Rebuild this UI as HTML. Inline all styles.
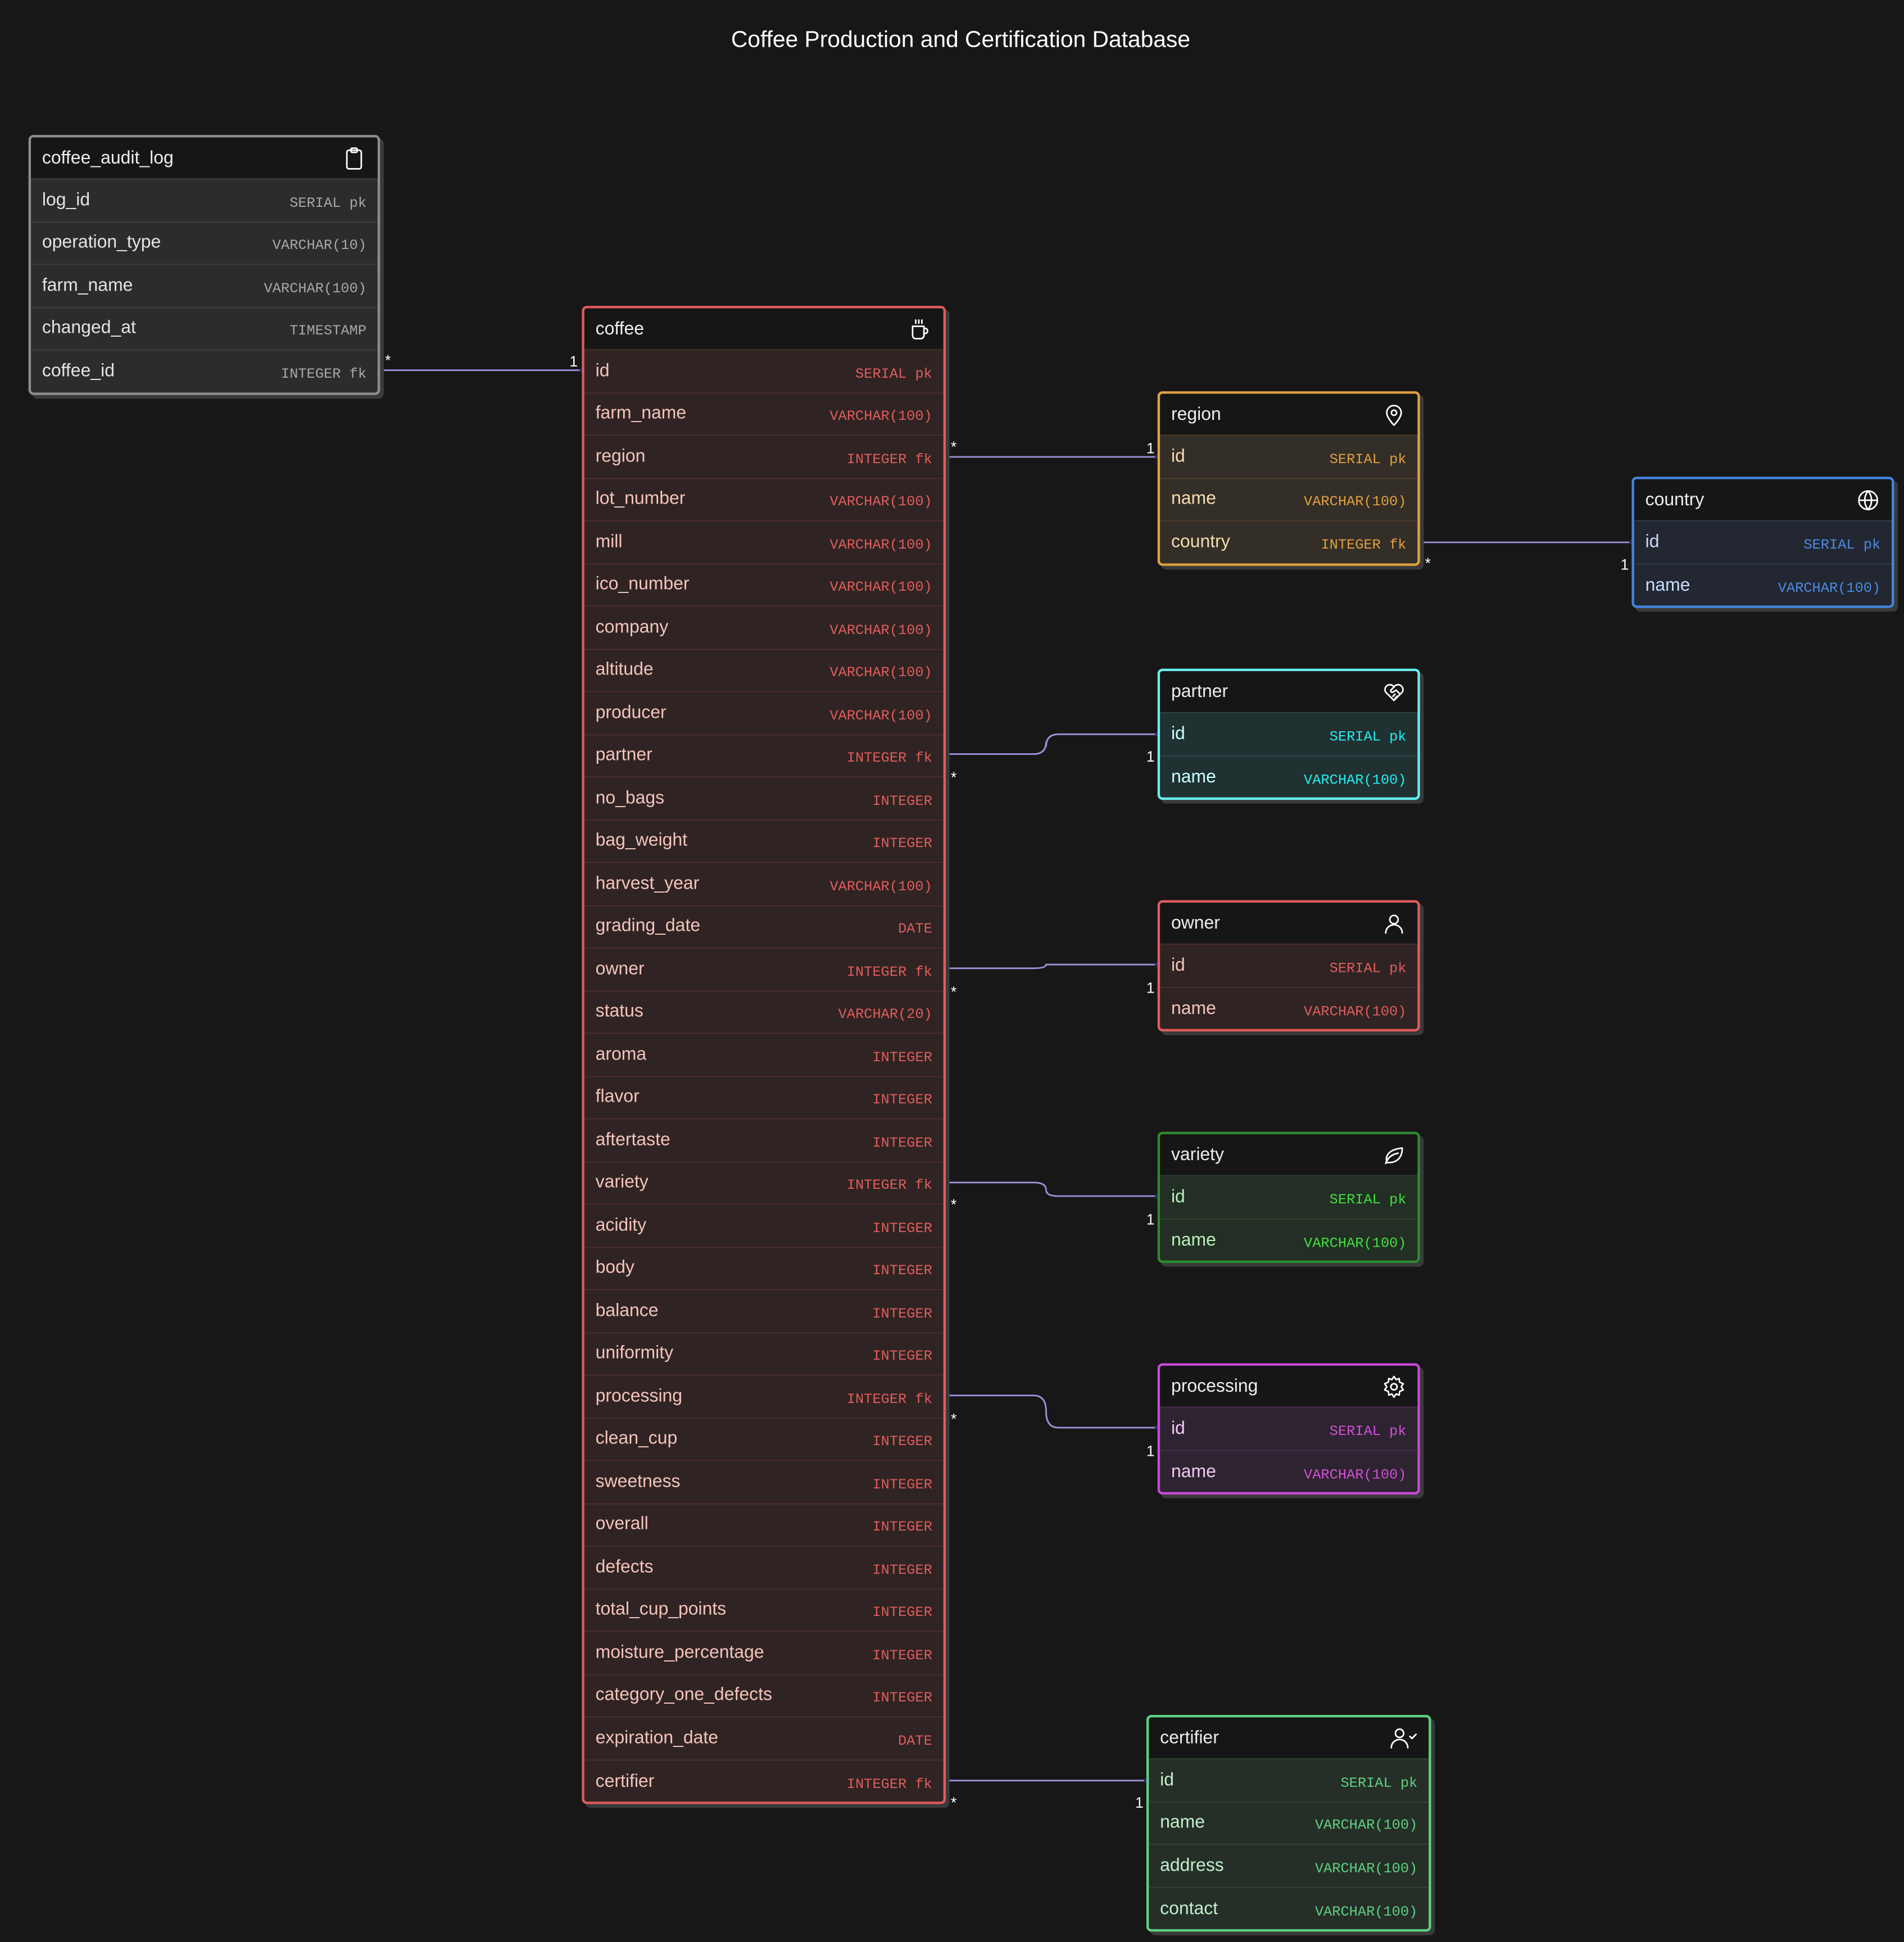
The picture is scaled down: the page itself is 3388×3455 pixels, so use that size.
<!DOCTYPE html>
<html><head><meta charset="utf-8"><style>
html,body{margin:0;padding:0;background:#171717;}
body{width:3388px;height:3455px;overflow:hidden;position:relative;}
#w{position:absolute;left:0;top:0;width:1538px;height:1568px;transform:scale(2.2029);transform-origin:0 0;font-family:"Liberation Sans",sans-serif;}
.t{position:absolute;border:2px solid;border-radius:4px;box-shadow:3px 3px 0 #3a3a3a;overflow:hidden;box-sizing:border-box;}
.h{height:33px;background:#161616;color:#eee;font-size:14.5px;display:flex;align-items:center;justify-content:space-between;padding:0 9px 0 9px;border-bottom:1px solid;}
.r{height:34.5px;border-bottom:1px solid;display:flex;align-items:center;justify-content:space-between;padding:0 9px;font-size:14.5px;box-sizing:border-box;}
.r:last-child{border-bottom:none}
.r i{font-style:normal;font-family:"Liberation Mono",monospace;font-size:11.5px;padding-top:5px;white-space:pre;}
svg.ic{width:20px;height:20px;fill:none;stroke:#fff;stroke-width:1.5;stroke-linecap:round;stroke-linejoin:round}
.title{position:absolute;left:0;width:1552px;top:21px;text-align:center;color:#fff;font-size:18.5px;}
.lb{position:absolute;color:#fff;font-size:12px;}
</style></head><body><div id="w">
<div class="title">Coffee Production and Certification Database</div>
<svg style="position:absolute;left:0;top:0" width="1538" height="1568" fill="none" stroke="#9a94d8" stroke-width="1.3">
<path d="M306 299 H470"/>
<path d="M763 369 H935"/>
<path d="M1146 438 H1318"/>
<path d="M763 609 H835 Q845 609 845 599 V603 Q845 593 855 593 H935"/>
<path d="M763 782 H835 Q845 782 845 779 H935"/>
<path d="M763 955 H835 Q845 955 845 961 Q845 966 855 966 H935"/>
<path d="M763 1127 H835 Q845 1127 845 1140 Q845 1153 855 1153 H935"/>
<path d="M763 1438 H926"/>
<g fill="#2a2660" stroke="none">
<circle cx="306" cy="299" r="2"/><circle cx="470" cy="299" r="2"/>
<circle cx="763" cy="369" r="2"/><circle cx="935" cy="369" r="2"/>
<circle cx="1146" cy="438" r="2"/><circle cx="1318" cy="438" r="2"/>
<circle cx="763" cy="609" r="2"/><circle cx="935" cy="593" r="2"/>
<circle cx="763" cy="782" r="2"/><circle cx="935" cy="779" r="2"/>
<circle cx="763" cy="955" r="2"/><circle cx="935" cy="966" r="2"/>
<circle cx="763" cy="1127" r="2"/><circle cx="935" cy="1153" r="2"/>
<circle cx="763" cy="1438" r="2"/><circle cx="926" cy="1438" r="2"/>
</g></svg>
<div class="lb" style="left:311px;top:284px">*</div><div class="lb" style="left:460px;top:285px">1</div>
<div class="lb" style="left:768px;top:354px">*</div><div class="lb" style="left:926px;top:355px">1</div>
<div class="lb" style="left:1151px;top:448px">*</div><div class="lb" style="left:1309px;top:449px">1</div>
<div class="lb" style="left:768px;top:621px">*</div><div class="lb" style="left:926px;top:604px">1</div>
<div class="lb" style="left:768px;top:794px">*</div><div class="lb" style="left:926px;top:791px">1</div>
<div class="lb" style="left:768px;top:966px">*</div><div class="lb" style="left:926px;top:978px">1</div>
<div class="lb" style="left:768px;top:1139px">*</div><div class="lb" style="left:926px;top:1165px">1</div>
<div class="lb" style="left:768px;top:1449px">*</div><div class="lb" style="left:917px;top:1449px">1</div>

<div class="t" style="left:23px;top:109px;width:284px;height:210px;border-color:#8d8d8d;background:#2c2c2c;color:#e4e4e4">
<div class="h" style="border-color:#3c3c3c">coffee_audit_log<svg class="ic" viewBox="0 0 24 24"><rect x="5" y="4" width="14" height="18" rx="2"/><rect x="9" y="2" width="6" height="4" rx="1"/></svg></div>
<div style="color:#e4e4e4">
<div class="r" style="border-color:#3c3c3c">log_id<i style="color:#a8a8a8">SERIAL pk</i></div>
<div class="r" style="border-color:#3c3c3c">operation_type<i style="color:#a8a8a8">VARCHAR(10)</i></div>
<div class="r" style="border-color:#3c3c3c">farm_name<i style="color:#a8a8a8">VARCHAR(100)</i></div>
<div class="r" style="border-color:#3c3c3c">changed_at<i style="color:#a8a8a8">TIMESTAMP</i></div>
<div class="r" style="border-color:#3c3c3c">coffee_id<i style="color:#a8a8a8">INTEGER fk</i></div>
</div></div>

<div class="t" style="left:470px;top:247px;width:294px;height:1210px;border-color:#e05c5c;background:#2f2423;color:#f5c4bc">
<div class="h" style="border-color:#4a2c2c">coffee<svg class="ic" viewBox="0 0 24 24"><path d="M5 9h11v9a3 3 0 0 1-3 3H8a3 3 0 0 1-3-3z"/><path d="M16 11h1a2.5 2.5 0 0 1 0 5h-1"/><path d="M8 3v3M11 3v3M14 3v3"/></svg></div>
<div>
<div class="r" style="border-color:#4a2c2c">id<i style="color:#e05c5c">SERIAL pk</i></div>
<div class="r" style="border-color:#4a2c2c">farm_name<i style="color:#e05c5c">VARCHAR(100)</i></div>
<div class="r" style="border-color:#4a2c2c">region<i style="color:#e05c5c">INTEGER fk</i></div>
<div class="r" style="border-color:#4a2c2c">lot_number<i style="color:#e05c5c">VARCHAR(100)</i></div>
<div class="r" style="border-color:#4a2c2c">mill<i style="color:#e05c5c">VARCHAR(100)</i></div>
<div class="r" style="border-color:#4a2c2c">ico_number<i style="color:#e05c5c">VARCHAR(100)</i></div>
<div class="r" style="border-color:#4a2c2c">company<i style="color:#e05c5c">VARCHAR(100)</i></div>
<div class="r" style="border-color:#4a2c2c">altitude<i style="color:#e05c5c">VARCHAR(100)</i></div>
<div class="r" style="border-color:#4a2c2c">producer<i style="color:#e05c5c">VARCHAR(100)</i></div>
<div class="r" style="border-color:#4a2c2c">partner<i style="color:#e05c5c">INTEGER fk</i></div>
<div class="r" style="border-color:#4a2c2c">no_bags<i style="color:#e05c5c">INTEGER</i></div>
<div class="r" style="border-color:#4a2c2c">bag_weight<i style="color:#e05c5c">INTEGER</i></div>
<div class="r" style="border-color:#4a2c2c">harvest_year<i style="color:#e05c5c">VARCHAR(100)</i></div>
<div class="r" style="border-color:#4a2c2c">grading_date<i style="color:#e05c5c">DATE</i></div>
<div class="r" style="border-color:#4a2c2c">owner<i style="color:#e05c5c">INTEGER fk</i></div>
<div class="r" style="border-color:#4a2c2c">status<i style="color:#e05c5c">VARCHAR(20)</i></div>
<div class="r" style="border-color:#4a2c2c">aroma<i style="color:#e05c5c">INTEGER</i></div>
<div class="r" style="border-color:#4a2c2c">flavor<i style="color:#e05c5c">INTEGER</i></div>
<div class="r" style="border-color:#4a2c2c">aftertaste<i style="color:#e05c5c">INTEGER</i></div>
<div class="r" style="border-color:#4a2c2c">variety<i style="color:#e05c5c">INTEGER fk</i></div>
<div class="r" style="border-color:#4a2c2c">acidity<i style="color:#e05c5c">INTEGER</i></div>
<div class="r" style="border-color:#4a2c2c">body<i style="color:#e05c5c">INTEGER</i></div>
<div class="r" style="border-color:#4a2c2c">balance<i style="color:#e05c5c">INTEGER</i></div>
<div class="r" style="border-color:#4a2c2c">uniformity<i style="color:#e05c5c">INTEGER</i></div>
<div class="r" style="border-color:#4a2c2c">processing<i style="color:#e05c5c">INTEGER fk</i></div>
<div class="r" style="border-color:#4a2c2c">clean_cup<i style="color:#e05c5c">INTEGER</i></div>
<div class="r" style="border-color:#4a2c2c">sweetness<i style="color:#e05c5c">INTEGER</i></div>
<div class="r" style="border-color:#4a2c2c">overall<i style="color:#e05c5c">INTEGER</i></div>
<div class="r" style="border-color:#4a2c2c">defects<i style="color:#e05c5c">INTEGER</i></div>
<div class="r" style="border-color:#4a2c2c">total_cup_points<i style="color:#e05c5c">INTEGER</i></div>
<div class="r" style="border-color:#4a2c2c">moisture_percentage<i style="color:#e05c5c">INTEGER</i></div>
<div class="r" style="border-color:#4a2c2c">category_one_defects<i style="color:#e05c5c">INTEGER</i></div>
<div class="r" style="border-color:#4a2c2c">expiration_date<i style="color:#e05c5c">DATE</i></div>
<div class="r" style="border-color:#4a2c2c">certifier<i style="color:#e05c5c">INTEGER fk</i></div>
</div></div>

<div class="t" style="left:935px;top:316px;width:212px;height:141px;border-color:#e0a040;background:#332e27;color:#f5dcb0">
<div class="h" style="border-color:#4a3a28">region<svg class="ic" viewBox="0 0 24 24"><path d="M12 22s-7-7-7-12a7 7 0 0 1 14 0c0 5-7 12-7 12z"/><circle cx="12" cy="10" r="2.5"/></svg></div>
<div class="r" style="border-color:#4a3a28">id<i style="color:#e0a040">SERIAL pk</i></div>
<div class="r" style="border-color:#4a3a28">name<i style="color:#e0a040">VARCHAR(100)</i></div>
<div class="r" style="border-color:#4a3a28">country<i style="color:#e0a040">INTEGER fk</i></div>
</div>

<div class="t" style="left:1318px;top:385px;width:212px;height:106px;border-color:#4286dc;background:#232731;color:#c8dcff">
<div class="h" style="border-color:#2c3a4e">country<svg class="ic" viewBox="0 0 24 24"><circle cx="12" cy="12" r="9"/><path d="M3 12h18M12 3a14 14 0 0 1 0 18M12 3a14 14 0 0 0 0 18"/></svg></div>
<div class="r" style="border-color:#2c3a4e">id<i style="color:#4a8ae6">SERIAL pk</i></div>
<div class="r" style="border-color:#2c3a4e">name<i style="color:#4a8ae6">VARCHAR(100)</i></div>
</div>

<div class="t" style="left:935px;top:540px;width:212px;height:106px;border-color:#66eeee;background:#213031;color:#c8ffff">
<div class="h" style="border-color:#2a4646">partner<svg class="ic" viewBox="0 0 24 24"><path d="M12 20l-8-8a4.5 4.5 0 0 1 8-5 4.5 4.5 0 0 1 8 5z"/><path d="M12 7l-3 3a1.5 1.5 0 0 0 2 2l3-2 3 3M11 16l2-2M13 18l2-2"/></svg></div>
<div class="r" style="border-color:#2a4646">id<i style="color:#22eeee">SERIAL pk</i></div>
<div class="r" style="border-color:#2a4646">name<i style="color:#22eeee">VARCHAR(100)</i></div>
</div>

<div class="t" style="left:935px;top:727px;width:212px;height:106px;border-color:#e05c5c;background:#2f2423;color:#f5c4bc">
<div class="h" style="border-color:#4a2c2c">owner<svg class="ic" viewBox="0 0 24 24"><circle cx="12" cy="8" r="4"/><path d="M4 21a8 8 0 0 1 16 0"/></svg></div>
<div class="r" style="border-color:#4a2c2c">id<i style="color:#e05c5c">SERIAL pk</i></div>
<div class="r" style="border-color:#4a2c2c">name<i style="color:#e05c5c">VARCHAR(100)</i></div>
</div>

<div class="t" style="left:935px;top:914px;width:212px;height:106px;border-color:#2e8a30;background:#232e24;color:#b8f0b8">
<div class="h" style="border-color:#2c402c">variety<svg class="ic" viewBox="0 0 24 24"><path d="M4 20c2-6 6-9 12-10M5 19c-2-8 4-13 15-14 0 9-5 15-15 14z"/></svg></div>
<div class="r" style="border-color:#2c402c">id<i style="color:#3ee03e">SERIAL pk</i></div>
<div class="r" style="border-color:#2c402c">name<i style="color:#3ee03e">VARCHAR(100)</i></div>
</div>

<div class="t" style="left:935px;top:1101px;width:212px;height:106px;border-color:#c848d8;background:#2e2330;color:#f0c8f4">
<div class="h" style="border-color:#462c48">processing<svg class="ic" viewBox="0 0 24 24"><circle cx="12" cy="12" r="3"/><path d="M12 2l2 3 3-1 .5 3.5L21 9l-2 3 2 3-3.5 1.5L17 20l-3-1-2 3-2-3-3 1-.5-3.5L3 15l2-3-2-3 3.5-1.5L7 4l3 1z"/></svg></div>
<div class="r" style="border-color:#462c48">id<i style="color:#d050d8">SERIAL pk</i></div>
<div class="r" style="border-color:#462c48">name<i style="color:#d050d8">VARCHAR(100)</i></div>
</div>

<div class="t" style="left:926px;top:1385px;width:230px;height:175px;border-color:#5ed080;background:#262e28;color:#c0f0cc">
<div class="h" style="border-color:#2c4430">certifier<svg class="ic" style="width:24px" viewBox="0 0 28 24"><circle cx="11" cy="7" r="4"/><path d="M3 21a8 8 0 0 1 16 0M21 10l2 2 4-4"/></svg></div>
<div class="r" style="border-color:#2c4430">id<i style="color:#5ed080">SERIAL pk</i></div>
<div class="r" style="border-color:#2c4430">name<i style="color:#5ed080">VARCHAR(100)</i></div>
<div class="r" style="border-color:#2c4430">address<i style="color:#5ed080">VARCHAR(100)</i></div>
<div class="r" style="border-color:#2c4430">contact<i style="color:#5ed080">VARCHAR(100)</i></div>
</div>
</div></body></html>
